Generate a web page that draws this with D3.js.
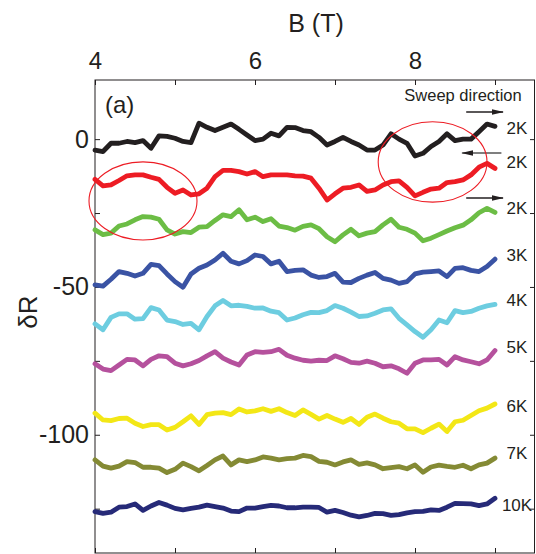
<!DOCTYPE html>
<html>
<head>
<meta charset="utf-8">
<script src="https://cdn.jsdelivr.net/npm/d3@7"></script>
<style>
  body { margin: 0; background: #fff; }
  text { font-family: "Liberation Sans", Arial, sans-serif; fill: #231f20; }
</style>
</head>
<body>
<svg id="chart"></svg>
<script>
// field values (T), one sample every 0.1 T
const fieldB = [4.0, 4.1, 4.2, 4.3, 4.4, 4.5, 4.6, 4.7, 4.8, 4.9,
  5.0, 5.1, 5.2, 5.3, 5.4, 5.5, 5.6, 5.7, 5.8, 5.9,
  6.0, 6.1, 6.2, 6.3, 6.4, 6.5, 6.6, 6.7, 6.8, 6.9,
  7.0, 7.1, 7.2, 7.3, 7.4, 7.5, 7.6, 7.7, 7.8, 7.9,
  8.0, 8.1, 8.2, 8.3, 8.4, 8.5, 8.6, 8.7, 8.8, 8.9, 9.0];

const dR_2K_up = [-3.7, -4.2, -1.4, -1.4, -0.8, -1.2, -0.5, -3.1, 1.1, 0.9,
  0.3, -0.8, -1.2, 5.4, 4.0, 2.9, 4.0, 5.1, 3.3, 1.4,
  -0.5, 0, 2.0, 1.1, 4.0, 3.9, 2.9, 2.5, 0.6, -2.0,
  -0.8, 0.6, -0.8, -2.0, -3.7, -3.7, -2.0, 1.8, 0, -1.4,
  -5.7, -4.8, -2.5, -0.8, 1.8, -0.5, 0, 0, 2.5, 5.1, 4.3];

const dR_2K_down = [-13.6, -15.8, -15.5, -14.0, -12.4, -12.1, -12.1, -12.9, -13.6, -16.3,
  -18.3, -17.2, -18.9, -18.5, -16.6, -12.7, -10.6, -10.6, -11.0, -11.8,
  -11.0, -12.7, -12.1, -12.1, -12.1, -12.4, -12.5, -13.2, -16.6, -20.6,
  -18.5, -16.6, -16.3, -15.5, -17.7, -17.2, -15.5, -14.4, -14.1, -16.3,
  -19.2, -18.0, -16.9, -16.6, -14.7, -14.4, -13.8, -12.1, -9.5, -8.2, -9.9];

const dR_2K_up2 = [-30.7, -32.3, -31.8, -29.4, -28.7, -27.3, -26.2, -26.4, -27.1, -30.7,
  -32.1, -31.3, -31.6, -29.8, -29.6, -27.5, -25.6, -26.2, -23.9, -27.3,
  -26.4, -27.9, -26.9, -29.4, -29.9, -30.8, -29.5, -29.0, -30.3, -33.0,
  -34.7, -32.4, -30.5, -32.7, -31.8, -31.3, -29.0, -27.1, -29.8, -30.5,
  -31.8, -34.4, -33.5, -32.3, -31.1, -30.0, -29.1, -27.3, -24.9, -23.4, -24.8];

const dR_3K = [-49.3, -49.7, -47.4, -44.8, -45.4, -46.3, -45.4, -42.4, -42.8, -45.6,
  -48.2, -50.1, -45.6, -43.7, -42.6, -40.9, -38.6, -41.3, -42.2, -41.1,
  -39.2, -39.7, -42.2, -41.3, -44.8, -44.4, -44.2, -46.0, -46.8, -46.5,
  -45.4, -48.4, -48.5, -47.1, -46.0, -45.1, -47.1, -47.7, -48.8, -48.2,
  -45.6, -45.0, -44.8, -44.6, -46.5, -43.7, -43.5, -44.4, -44.8, -43.1, -40.6];

const dR_4K = [-62.5, -64.5, -60.3, -59.1, -59.1, -60.9, -60.7, -57.0, -57.8, -61.2,
  -61.7, -62.7, -62.3, -64.5, -60.0, -56.4, -54.6, -56.4, -56.2, -56.6,
  -57.2, -57.1, -58.2, -58.7, -61.2, -60.5, -59.4, -58.6, -58.7, -58.0,
  -56.3, -57.2, -58.5, -60.0, -59.8, -58.9, -57.8, -57.4, -60.6, -62.8,
  -65.1, -67.0, -64.5, -61.2, -62.1, -58.0, -58.7, -58.3, -57.2, -56.4, -55.9];

const dR_5K = [-76.0, -77.8, -78.3, -76.4, -74.5, -74.7, -76.7, -74.5, -73.3, -73.6,
  -75.8, -76.7, -76.0, -74.9, -73.3, -71.9, -74.1, -75.4, -76.4, -73.0,
  -71.9, -72.1, -71.9, -71.1, -73.1, -74.1, -74.8, -75.1, -74.8, -74.9,
  -73.3, -74.3, -75.5, -75.8, -75.1, -75.8, -77.0, -76.7, -77.7, -79.2,
  -75.8, -74.7, -74.7, -74.5, -76.4, -73.6, -74.7, -75.3, -76.0, -74.7, -71.5];

const dR_6K = [-92.7, -95.0, -95.2, -94.5, -94.4, -96.1, -97.2, -96.6, -96.6, -98.4,
  -97.5, -95.6, -93.6, -96.5, -93.2, -92.7, -92.5, -93.2, -91.3, -92.3,
  -91.9, -91.2, -92.1, -91.2, -92.5, -93.5, -91.6, -93.1, -94.7, -93.5,
  -94.7, -95.8, -94.5, -96.5, -94.1, -93.0, -94.4, -95.6, -96.1, -98.0,
  -98.0, -99.3, -97.8, -96.4, -98.9, -95.6, -95.1, -93.5, -91.9, -91.0, -89.6];

const dR_7K = [-108.5, -110.6, -111.3, -110.6, -109.1, -109.4, -111.0, -111.0, -111.3, -112.8,
  -111.7, -109.6, -110.8, -112.2, -110.4, -108.5, -107.2, -110.2, -108.5, -109.1,
  -108.5, -107.5, -107.9, -108.5, -108.1, -107.9, -107.0, -107.4, -109.0, -109.3,
  -110.2, -109.2, -108.5, -110.0, -109.5, -110.2, -111.5, -111.1, -110.8, -111.5,
  -110.2, -112.7, -110.9, -110.3, -110.7, -111.0, -110.3, -111.5, -110.2, -109.6, -107.9];

const dR_10K = [-126.0, -126.6, -126.2, -124.5, -124.3, -123.4, -125.6, -124.1, -122.9, -123.8,
  -124.9, -125.4, -124.9, -124.5, -123.8, -124.3, -124.8, -125.8, -126.0, -124.8,
  -124.8, -124.3, -123.9, -124.1, -124.7, -124.7, -124.5, -124.5, -124.6, -126.2,
  -125.6, -126.3, -127.2, -127.8, -127.3, -126.6, -126.7, -127.3, -127.0, -126.4,
  -126.0, -125.9, -125.4, -125.6, -124.5, -123.2, -123.3, -123.4, -124.0, -123.4, -121.5];

const seriesLabels = ["2K", "2K", "2K", "3K", "4K", "5K", "6K", "7K", "10K"];
const seriesValues = [dR_2K_up, dR_2K_down, dR_2K_up2, dR_3K, dR_4K, dR_5K, dR_6K, dR_7K, dR_10K];
const seriesColors = ["#231f20", "#ed1c24", "#6cbd45", "#3a53a4", "#6dcde0",
  "#b5519d", "#f3e716", "#848a34", "#262a78"];
// sweep direction of the three 2K runs: 1 = up, -1 = down
const sweepDir = [1, -1, 1];

const xTicks = [4, 5, 6, 7, 8, 9];
const yTicks = [0, -25, -50, -75, -100, -125];

const width = 536, height = 554;
const svg = d3.select("#chart").attr("width", width).attr("height", height);

const x = d3.scaleLinear().domain([4, 9.5]).range([95, 535]);
const y = d3.scaleLinear().domain([-140, 20]).range([553, 80]);

// axes (ticks point inward)
svg.append("g")
  .attr("transform", `translate(0,${y(20)})`)
  .call(d3.axisTop(x).tickValues(xTicks).tickSizeInner(-5).tickSizeOuter(0).tickPadding(11)
    .tickFormat((d) => (d % 2 === 0 ? d : "")))
  .call((g) => g.select(".domain").remove())
  .call((g) => g.selectAll("text").style("font-size", "24px"));

svg.append("g")
  .attr("transform", `translate(0,${y(-140)})`)
  .call(d3.axisBottom(x).tickValues(xTicks).tickSizeInner(-5).tickSizeOuter(0).tickFormat(""))
  .call((g) => g.select(".domain").remove());

svg.append("g")
  .attr("transform", `translate(${x(4)},0)`)
  .call(d3.axisLeft(y).tickValues(yTicks).tickSizeInner(-5).tickSizeOuter(0).tickPadding(6)
    .tickFormat((d) => (d % 50 === 0 ? d : "")))
  .call((g) => g.select(".domain").remove())
  .call((g) => g.selectAll("text").style("font-size", "25px"));

svg.append("g")
  .attr("transform", `translate(${x(9.5)},0)`)
  .call(d3.axisRight(y).tickValues(yTicks).tickSizeInner(-5).tickSizeOuter(0).tickFormat(""))
  .call((g) => g.select(".domain").remove());

svg.selectAll(".tick line").attr("stroke", "#231f20");

svg.append("rect")
  .attr("x", x(4)).attr("y", y(20))
  .attr("width", x(9.5) - x(4) - 0.5).attr("height", y(-140) - y(20))
  .attr("fill", "none").attr("stroke", "#231f20").attr("stroke-width", 1);

svg.append("text").attr("x", 316).attr("y", 32)
  .attr("text-anchor", "middle").style("font-size", "25px").text("B (T)");
svg.append("text")
  .attr("transform", "translate(28,312) rotate(-90)")
  .attr("dy", "0.35em")
  .attr("text-anchor", "middle").style("font-size", "26px").text("δR");
svg.append("text").attr("x", 105).attr("y", 113).style("font-size", "24px").text("(a)");

// traces
const line = d3.line()
  .x((d, i) => x(fieldB[i]))
  .y((d) => y(d))
  .curve(d3.curveLinear);

svg.append("g")
  .selectAll("path")
  .data(seriesValues)
  .join("path")
  .attr("d", (d) => line(d))
  .attr("fill", "none")
  .attr("stroke", (d, i) => seriesColors[i])
  .attr("stroke-width", 4.8)
  .attr("stroke-linejoin", "round")
  .attr("stroke-linecap", "round");

// temperature labels at the end of each trace
const labelNudge = [2, -6, -4, -4, -4, -3, 2, -5, 7];
svg.append("g")
  .selectAll("text")
  .data(seriesValues)
  .join("text")
  .attr("x", 517)
  .attr("y", (d, i) => y(d[d.length - 1]) + labelNudge[i] + 6)
  .attr("text-anchor", "middle")
  .style("font-size", "17px")
  .text((d, i) => seriesLabels[i]);

// sweep direction arrows
svg.append("text").attr("x", 463).attr("y", 101)
  .attr("text-anchor", "middle").style("font-size", "16.5px").text("Sweep direction");

const defs = svg.append("defs");
defs.append("marker")
  .attr("id", "head")
  .attr("viewBox", "0 0 12 8")
  .attr("refX", 11).attr("refY", 4)
  .attr("markerWidth", 12).attr("markerHeight", 8)
  .attr("markerUnits", "userSpaceOnUse")
  .attr("orient", "auto")
  .append("path").attr("d", "M0,1.2 L12,4 L0,6.8 Z").attr("fill", "#231f20");

const arrowRows = [112, 153, 198];
svg.append("g")
  .selectAll("line")
  .data(sweepDir)
  .join("line")
  .attr("x1", (d) => (d > 0 ? x(8.64) : x(9.08)))
  .attr("x2", (d) => (d > 0 ? x(9.1) : x(8.59)))
  .attr("y1", (d, i) => arrowRows[i])
  .attr("y2", (d, i) => arrowRows[i])
  .attr("stroke", (d) => (d > 0 ? "#231f20" : "#555"))
  .attr("stroke-width", 1.3)
  .attr("marker-end", "url(#head)");

// red ellipses marking the mirrored features
const marks = [{ b: 4.6, v: -20.9, rb: 0.675, rv: 13.2 }, { b: 8.22, v: -7.7, rb: 0.68, rv: 13.6 }];
svg.append("g")
  .selectAll("ellipse")
  .data(marks)
  .join("ellipse")
  .attr("cx", (d) => x(d.b))
  .attr("cy", (d) => y(d.v))
  .attr("rx", (d) => x(d.b + d.rb) - x(d.b))
  .attr("ry", (d) => y(d.v - d.rv) - y(d.v))
  .attr("fill", "none")
  .attr("stroke", "#ed1c24")
  .attr("stroke-width", 1.1);
</script>
</body>
</html>
